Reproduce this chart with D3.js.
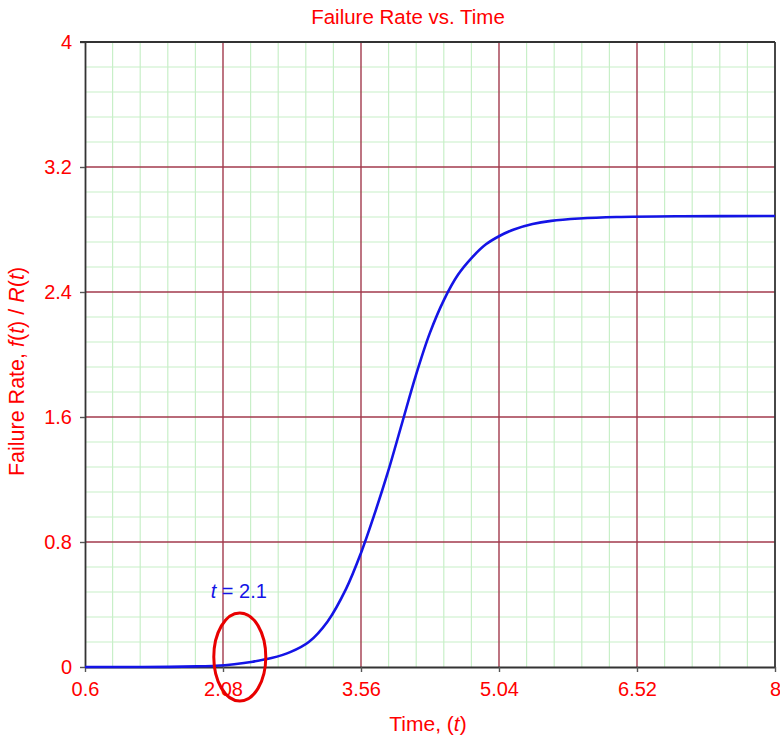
<!DOCTYPE html>
<html>
<head>
<meta charset="utf-8">
<script src="https://cdn.jsdelivr.net/npm/d3@7"></script>
<style>
  html, body { margin: 0; padding: 0; background: #fff; }
  svg { display: block; font-family: "Liberation Sans", Arial, sans-serif; }
</style>
</head>
<body>
<svg id="chart" width="780" height="740"></svg>
<script>
// ---- data ----
const title = "Failure Rate vs. Time";
const xTicks = [0.6, 2.08, 3.56, 5.04, 6.52, 8];
const xTickLabels = ["0.6", "2.08", "3.56", "5.04", "6.52", "8"];
const yTicks = [0, 0.8, 1.6, 2.4, 3.2, 4];
const yTickLabels = ["0", "0.8", "1.6", "2.4", "3.2", "4"];
const time = [0.6, 1.0, 1.5, 1.8, 2.0, 2.2, 2.4, 2.6, 2.8, 3.0, 3.2, 3.4, 3.56, 3.7, 3.85, 4.0, 4.15, 4.3, 4.45, 4.6, 4.75, 4.9, 5.05, 5.2, 5.4, 5.6, 5.9, 6.3, 7.0, 8.0];
const failureRate = [0, 0, 0.001, 0.004, 0.008, 0.018, 0.034, 0.057, 0.095, 0.16, 0.29, 0.50, 0.73, 0.97, 1.25, 1.56, 1.87, 2.14, 2.35, 2.51, 2.62, 2.705, 2.76, 2.80, 2.835, 2.855, 2.87, 2.88, 2.885, 2.886];
const annotText = ["t", " = 2.1"];
const annotTextPos = [2.25, 0.44];   // [time, rate] of the label baseline centre
const annotCircle = [2.26, 0.064];   // [time, rate] of the ellipse centre

// ---- layout ----
const W = 780, H = 740;
const m = { left: 85, top: 42, right: 5, bottom: 73 };
const pw = W - m.left - m.right, ph = H - m.top - m.bottom;
const svg = d3.select("#chart");
const g = svg.append("g").attr("transform", `translate(${m.left},${m.top})`);

const x = d3.scaleLinear().domain([xTicks[0], xTicks[xTicks.length - 1]]).range([0, pw]);
const y = d3.scaleLinear().domain([yTicks[0], yTicks[yTicks.length - 1]]).range([ph, 0]);

// minor grid (5 subdivisions of each major interval)
const xMinor = [], yMinor = [];
for (let i = 0; i < xTicks.length - 1; i++) {
  const s = (xTicks[i + 1] - xTicks[i]) / 5;
  for (let k = 1; k < 5; k++) xMinor.push(xTicks[i] + k * s);
}
for (let i = 0; i < yTicks.length - 1; i++) {
  const s = (yTicks[i + 1] - yTicks[i]) / 5;
  for (let k = 1; k < 5; k++) yMinor.push(yTicks[i] + k * s);
}
const minorColor = "#c8efc8", majorColor = "#a23a4c";
g.append("g").selectAll("line").data(xMinor).join("line")
  .attr("x1", d => x(d)).attr("x2", d => x(d)).attr("y1", 0).attr("y2", ph)
  .attr("stroke", minorColor).attr("stroke-width", 1.2);
g.append("g").selectAll("line").data(yMinor).join("line")
  .attr("y1", d => y(d)).attr("y2", d => y(d)).attr("x1", 0).attr("x2", pw)
  .attr("stroke", minorColor).attr("stroke-width", 1.2);

// major grid
g.append("g").selectAll("line").data(xTicks.slice(1, -1)).join("line")
  .attr("x1", d => x(d)).attr("x2", d => x(d)).attr("y1", 0).attr("y2", ph)
  .attr("stroke", majorColor).attr("stroke-width", 1.4);
g.append("g").selectAll("line").data(yTicks.slice(1, -1)).join("line")
  .attr("y1", d => y(d)).attr("y2", d => y(d)).attr("x1", 0).attr("x2", pw)
  .attr("stroke", majorColor).attr("stroke-width", 1.4);

// axes
const xAxis = d3.axisBottom(x).tickValues(xTicks).tickSize(5).tickSizeOuter(0)
  .tickFormat((d, i) => xTickLabels[i]);
const yAxis = d3.axisLeft(y).tickValues(yTicks).tickSize(5).tickSizeOuter(0)
  .tickFormat((d, i) => yTickLabels[i]);
const gx = g.append("g").attr("transform", `translate(0,${ph})`).call(xAxis);
const gy = g.append("g").call(yAxis);
[gx, gy].forEach(a => {
  a.select(".domain").attr("stroke", "#333").attr("stroke-width", 1.8);
  a.selectAll(".tick line").attr("stroke", "#555").attr("stroke-width", 1.4);
  a.selectAll(".tick text").attr("fill", "#ff0000").attr("font-size", 20)
    .attr("font-family", "'Liberation Sans', Arial, sans-serif");
});
gx.selectAll(".tick text").attr("dy", "1.05em");
gy.selectAll(".tick text").attr("x", -13);

// frame top and right
g.append("line").attr("x1", -5).attr("x2", pw).attr("y1", 0).attr("y2", 0)
  .attr("stroke", "#333").attr("stroke-width", 1.8);
g.append("line").attr("x1", pw).attr("x2", pw).attr("y1", 0).attr("y2", ph)
  .attr("stroke", "#333").attr("stroke-width", 1.8);

// curve
const pts = time.map((t, i) => [t, failureRate[i]]);
g.append("path").datum(pts)
  .attr("fill", "none").attr("stroke", "#1414e6").attr("stroke-width", 2.6)
  .attr("stroke-linejoin", "round")
  .attr("d", d3.line().x(d => x(d[0])).y(d => y(d[1])).curve(d3.curveCatmullRom.alpha(0.5)));

// annotation
g.append("ellipse")
  .attr("cx", x(annotCircle[0])).attr("cy", y(annotCircle[1]))
  .attr("rx", 26).attr("ry", 44)
  .attr("fill", "none").attr("stroke", "#e80000").attr("stroke-width", 3);
const at = g.append("text")
  .attr("x", x(annotTextPos[0])).attr("y", y(annotTextPos[1]))
  .attr("text-anchor", "middle").attr("fill", "#1414e6").attr("font-size", 20);
at.append("tspan").attr("font-style", "italic").text(annotText[0]);
at.append("tspan").text(annotText[1]);

// title
svg.append("text").attr("x", 408).attr("y", 24).attr("text-anchor", "middle")
  .attr("fill", "#ff0000").attr("font-size", 20.5).text(title);

// x label
const xl = svg.append("text").attr("x", m.left + pw / 2 - 2).attr("y", 731)
  .attr("text-anchor", "middle").attr("fill", "#ff0000").attr("font-size", 21);
xl.append("tspan").text("Time, (");
xl.append("tspan").attr("font-style", "italic").text("t");
xl.append("tspan").text(")");

// y label
const yl = svg.append("text")
  .attr("transform", `translate(24,${m.top + ph / 2 + 17}) rotate(-90)`)
  .attr("text-anchor", "middle").attr("fill", "#ff0000").attr("font-size", 21.5);
yl.append("tspan").text("Failure Rate, ");
yl.append("tspan").attr("font-style", "italic").text("f");
yl.append("tspan").text("(");
yl.append("tspan").attr("font-style", "italic").text("t");
yl.append("tspan").text(") / ");
yl.append("tspan").attr("font-style", "italic").text("R");
yl.append("tspan").text("(");
yl.append("tspan").attr("font-style", "italic").text("t");
yl.append("tspan").text(")");
</script>
</body>
</html>
